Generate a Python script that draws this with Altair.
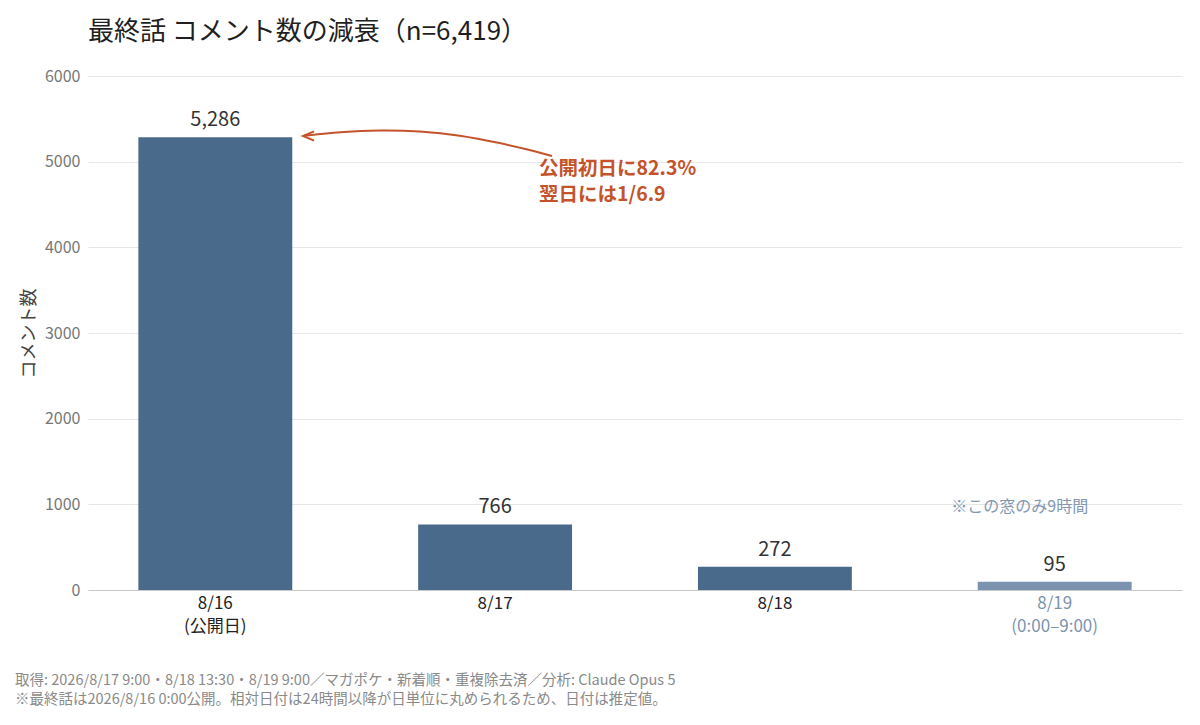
import altair as alt
import pandas as pd

FONT = "Noto Sans CJK JP"

days = ["8/16|(公開日)", "8/17", "8/18", "8/19|(0:00–9:00)"]
counts = [5286, 766, 272, 95]
labels = ["5,286", "766", "272", "95"]
partial = [False, False, False, True]

# annotation arrow path, in (category index, count) units
arrow_i = [0.315, 0.447, 0.589, 0.732, 0.875, 1.018, 1.125, 1.204]
arrow_y = [5300, 5346, 5370, 5358, 5311, 5218, 5136, 5066]

note_lines = ["公開初日に82.3%", "翌日には1/6.9"]
note_y = [4915, 4610]

footer_lines = [
    "取得: 2026/8/17 9:00・8/18 13:30・8/19 9:00／マガポケ・新着順・重複除去済／分析: Claude Opus 5",
    "※最終話は2026/8/16 0:00公開。相対日付は24時間以降が日単位に丸められるため、日付は推定値。",
]

df = pd.DataFrame({"day": days, "count": counts, "label": labels, "partial": partial})
arrow_df = pd.DataFrame({"i": arrow_i, "y": arrow_y, "o": list(range(len(arrow_i)))})
tip_df = arrow_df.iloc[[0]]
note_df = pd.DataFrame({"day": ["8/17"] * 2, "y": note_y, "t": note_lines})
window_df = pd.DataFrame({"day": ["8/19|(0:00–9:00)"], "y": [970], "t": ["※この窓のみ9時間"]})
foot_df = pd.DataFrame({"t": footer_lines, "row": [0, 1]})

W, H = 1094, 514
BAR = "#4A6A8B"
BAR_LIGHT = "#7B93AE"
ORANGE = "#C4532C"

xenc = alt.X(
    "day:N",
    sort=days,
    scale=alt.Scale(paddingInner=0.45, paddingOuter=0.18),
    axis=alt.Axis(
        title=None,
        labelAngle=0,
        labelExpr="split(datum.label, '|')",
        labelFontSize=17,
        labelLineHeight=23,
        labelColor={"condition": {"test": "indexof(datum.label, '8/19') == 0", "value": BAR_LIGHT}, "value": "#222222"},
        labelPadding=5,
        ticks=False,
        domainColor="#c8c8c8",
        grid=False,
    ),
)
yscale = alt.Scale(domain=[0, 6000], nice=False)
yenc = alt.Y(
    "count:Q",
    scale=yscale,
    axis=alt.Axis(
        title="コメント数",
        values=[0, 1000, 2000, 3000, 4000, 5000, 6000],
        format="d",
        labelFontSize=16,
        labelColor="#777777",
        labelPadding=8,
        titleFontSize=18,
        titleFontWeight="normal",
        titleColor="#444444",
        titlePadding=6,
        ticks=False,
        domain=False,
        gridColor="#e6e6e6",
    ),
)

bars = alt.Chart(df).mark_bar().encode(
    x=xenc,
    y=yenc,
    color=alt.condition("datum.partial", alt.value(BAR_LIGHT), alt.value(BAR)),
)
vals = alt.Chart(df).mark_text(fontSize=20, dy=-7, baseline="bottom", color="#333333", font=FONT).encode(
    x=alt.X("day:N", sort=days), y=alt.Y("count:Q", scale=yscale), text="label:N"
)
note = alt.Chart(note_df).mark_text(
    fontSize=19.5, fontWeight="bold", color=ORANGE, align="left", baseline="middle", dx=44, font=FONT
).encode(x=alt.X("day:N", sort=days), y=alt.Y("y:Q", scale=yscale), text="t:N")
window = alt.Chart(window_df).mark_text(
    fontSize=16, color="#7F97B2", align="center", baseline="middle", dx=-35, font=FONT
).encode(x=alt.X("day:N", sort=days), y=alt.Y("y:Q", scale=yscale), text="t:N")

xq = alt.Scale(domain=[-0.453, 3.454], nice=False, zero=False)
arrow = alt.Chart(arrow_df).mark_line(color=ORANGE, strokeWidth=2, interpolate="basis").encode(
    x=alt.X("i:Q", scale=xq, axis=None), y=alt.Y("y:Q", scale=yscale, axis=None), order="o:Q"
)
tip = alt.Chart(tip_df).mark_point(
    shape="M 1 -0.42 L 0 0 L 1 0.42", size=484, filled=False, color=ORANGE, strokeWidth=2, opacity=1
).encode(x=alt.X("i:Q", scale=xq, axis=None), y=alt.Y("y:Q", scale=yscale, axis=None))

footer = alt.Chart(foot_df).mark_text(
    fontSize=14.5, color="#8a8a8a", align="left", baseline="middle", font=FONT
).encode(
    x=alt.value(-73),
    y=alt.Y("row:Q", scale=alt.Scale(domain=[0, 1], range=[604.5, 623.5]), axis=None),
    text="t:N",
)

base = alt.layer(bars, vals, note, window)
chart = (
    alt.layer(base, arrow, tip, footer)
    .resolve_scale(x="independent", y="independent")
    .properties(
        width=W,
        height=H,
        autosize="none",
        padding={"left": 80, "top": 68, "right": 10, "bottom": 130},
        title=alt.TitleParams(
            "最終話 コメント数の減衰（n=6,419）",
            anchor="start",
            frame="group",
            fontSize=26,
            fontWeight="normal",
            color="#1f1f1f",
            font=FONT,
            offset=23,
        ),
    )
    .configure(font=FONT)
    .configure_view(stroke=None)
)

chart.save("out.html", embed_options={"renderer": "svg", "actions": False})
